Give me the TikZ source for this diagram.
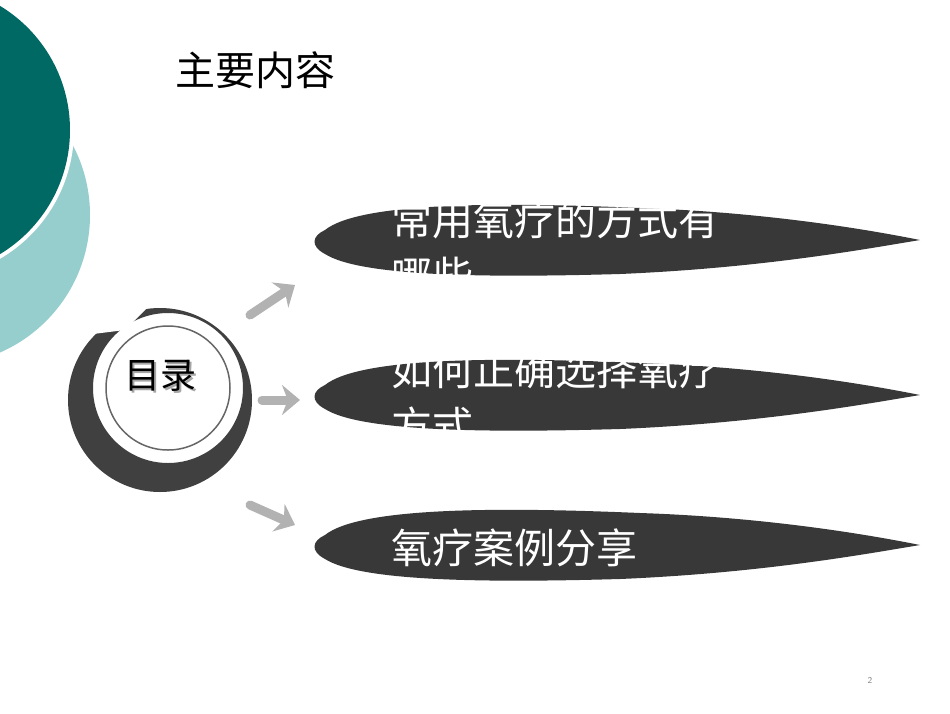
\documentclass[tikz,border=0pt]{standalone}
\usepackage{fontspec}
\newfontfamily\cjk{Noto Sans CJK SC}
\usetikzlibrary{arrows.meta}
\definecolor{lteal}{RGB}{150,205,205}
\definecolor{dteal}{RGB}{0,105,100}
\begin{document}
\begin{tikzpicture}[x=1pt,y=-1pt,
  brush/.style={fill=black!78},
  wtext/.style={text=white,font=\cjk\fontsize{41}{46}\selectfont,anchor=west},
  garrow/.style={draw=black!30,line width=9pt,-{Stealth[length=18pt,width=30pt]},line cap=round}]
\useasboundingbox (0,0) rectangle (950,713);
\fill[white] (0,0) rectangle (950,713);
\begin{scope}
\clip (0,0) rectangle (950,713);
\fill[lteal] (-60,215) circle (150);
\fill[white] (-75,130) circle (149);
\fill[dteal] (-75,130) circle (145);
\end{scope}
\node[font=\cjk\fontsize{40}{46}\selectfont,anchor=west] (title) at (172,70) {主要内容};
% brush strokes
\foreach \n/\y in {b1/240,b2/395,b3/545}{
  \fill[brush] (325,\y-10) .. controls (360,\y-38) and (500,\y-38) .. (640,\y-32)
    .. controls (760,\y-28) and (860,\y-12) .. (920,\y)
    .. controls (860,\y+10) and (760,\y+28) .. (620,\y+34)
    .. controls (480,\y+38) and (360,\y+36) .. (325,\y+14)
    .. controls (310,\y+6) and (312,\y-4) .. (325,\y-10) -- cycle;
  \coordinate (\n) at (320,\y);
}
\node[wtext] (t1a) at (388,220) {常用氧疗的方式有};
\node[wtext] (t1b) at (388,276) {哪些};
\node[wtext] (t2a) at (388,370) {如何正确选择氧疗};
\node[wtext] (t2b) at (388,426) {方式};
\node[wtext] (t3) at (388,548) {氧疗案例分享};
% ink ring
\begin{scope}
\clip (160,400) circle (93);
\fill[black!75,even odd rule] (160,400) circle (92) (168,388) circle (75);
\fill[white] (60,290) -- (165,290) -- (125,330) -- (85,335) -- (60,345) -- cycle;
\end{scope}
\draw[black!60,line width=1.5pt] (168,388) circle (62);
\node[font=\cjk\fontsize{36}{40}\selectfont,text=black!35] at (162,378) {目录};
\node[font=\cjk\fontsize{36}{40}\selectfont] (ml) at (160,376) {目录};
\coordinate (c1) at (250,315);
\coordinate (c2) at (262,400);
\coordinate (c3) at (250,505);
\draw[garrow] (c1) -- (295,285);
\draw[garrow] (c2) -- (300,400);
\draw[garrow] (c3) -- (295,525);
\node[text=black!50,font=\sffamily\small] (pg) at (870,680) {2};
\end{tikzpicture}
\end{document}
